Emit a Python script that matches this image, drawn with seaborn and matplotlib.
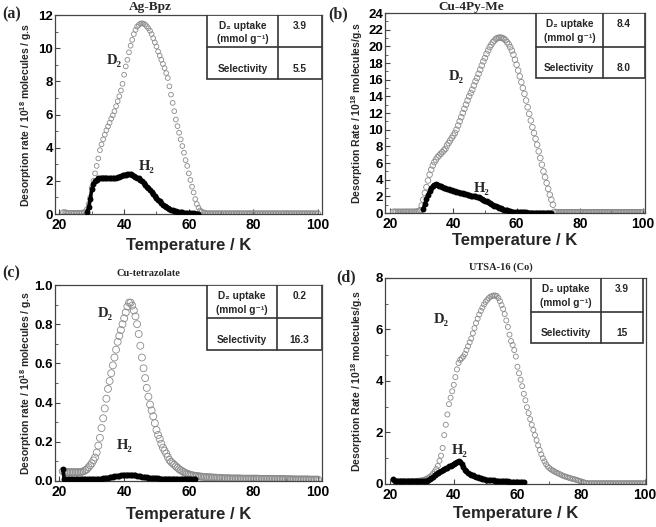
import numpy as np
import matplotlib
matplotlib.use("Agg")
import matplotlib.pyplot as plt
import seaborn as sns
from matplotlib.ticker import MultipleLocator, AutoMinorLocator

nan = np.nan

# sampling temperatures (K): every 0.5 K from 21 to 100
temp = np.arange(21.0, 100.25, 0.5)

# ---- (a) Ag-Bpz ----
agbpz_d2 = [
    0.10, 0.12, 0.10, 0.08, 0.07, 0.07, 0.07, 0.07, 0.07, 0.07,
    0.07, 0.08, 0.09, 0.10, 0.15, 0.30, 0.60, 1.00, 1.60, 2.00,
    2.45, 2.90, 3.35, 3.85, 4.20, 4.50, 4.78, 5.05, 5.28, 5.50,
    5.75, 5.95, 6.20, 6.50, 6.80, 7.10, 7.45, 7.85, 8.40, 8.90,
    9.30, 9.75, 10.15, 10.50, 10.85, 11.10, 11.30, 11.40, 11.48, 11.50,
    11.48, 11.42, 11.32, 11.20, 11.05, 10.85, 10.60, 10.35, 10.10, 9.80,
    9.55, 9.30, 9.05, 8.80, 8.50, 8.20, 7.70, 7.20, 6.70, 6.20,
    5.70, 5.30, 4.90, 4.50, 4.10, 3.70, 3.25, 2.90, 2.45, 2.05,
    1.65, 1.30, 0.90, 0.60, 0.38, 0.22, 0.14, 0.10, 0.07, 0.05,
    0.05, 0.05, 0.05, 0.05, 0.05, 0.05, 0.05, 0.05, 0.05, 0.05,
    0.05, 0.05, 0.05, 0.05, 0.05, 0.05, 0.05, 0.05, 0.05, 0.05,
    0.05, 0.05, 0.05, 0.05, 0.05, 0.05, 0.05, 0.05, 0.05, 0.05,
    0.05, 0.05, 0.05, 0.05, 0.05, 0.05, 0.05, 0.05, 0.05, 0.05,
    0.05, 0.05, 0.05, 0.05, 0.05, 0.05, 0.05, 0.05, 0.05, 0.05,
    0.05, 0.05, 0.05, 0.05, 0.05, 0.05, 0.05, 0.05, 0.05, 0.05,
    0.05, 0.05, 0.05, 0.05, 0.05, 0.05, 0.05, 0.05, 0.05,
]
agbpz_h2 = [
    nan, nan, nan, nan, nan, nan, nan, nan, nan, nan,
    nan, nan, nan, nan, nan, 0.10, 0.40, 0.90, 1.50, 1.80,
    2.00, 2.08, 2.15, 2.18, 2.20, 2.20, 2.20, 2.20, 2.18, 2.17,
    2.16, 2.16, 2.17, 2.19, 2.22, 2.26, 2.30, 2.33, 2.36, 2.38,
    2.40, 2.41, 2.40, 2.37, 2.32, 2.26, 2.20, 2.15, 2.08, 1.98,
    1.87, 1.76, 1.65, 1.55, 1.45, 1.33, 1.22, 1.10, 0.96, 0.86,
    0.76, 0.66, 0.57, 0.49, 0.42, 0.35, 0.30, 0.26, 0.22, 0.19,
    0.16, 0.14, 0.12, 0.11, 0.10, 0.08, 0.07, 0.06, 0.05, 0.05,
    0.04, 0.04, 0.03, 0.03, 0.03, nan, nan, nan, nan, nan,
    nan, nan, nan, nan, nan, nan, nan, nan, nan, nan,
    nan, nan, nan, nan, nan, nan, nan, nan, nan, nan,
    nan, nan, nan, nan, nan, nan, nan, nan, nan, nan,
    nan, nan, nan, nan, nan, nan, nan, nan, nan, nan,
    nan, nan, nan, nan, nan, nan, nan, nan, nan, nan,
    nan, nan, nan, nan, nan, nan, nan, nan, nan, nan,
    nan, nan, nan, nan, nan, nan, nan, nan, nan,
]

# ---- (b) Cu-4Py-Me ----
cu4py_d2 = [
    0.15, 0.15, 0.14, 0.15, 0.15, 0.14, 0.15, 0.15, 0.15, 0.15,
    0.15, 0.15, 0.15, 0.15, 0.15, 0.18, 0.22, 0.35, 0.90, 1.60,
    2.40, 3.10, 3.90, 4.60, 5.20, 5.70, 6.10, 6.40, 6.70, 6.90,
    7.10, 7.30, 7.50, 7.70, 8.10, 8.40, 8.70, 9.00, 9.30, 9.60,
    10.00, 10.50, 11.00, 11.50, 12.00, 12.50, 13.00, 13.50, 14.00, 14.40,
    14.80, 15.30, 15.80, 16.20, 16.70, 17.20, 17.70, 18.20, 18.60, 19.10,
    19.50, 19.90, 20.20, 20.50, 20.70, 20.90, 21.00, 21.05, 21.05, 21.00,
    20.90, 20.75, 20.50, 20.25, 19.90, 19.50, 19.00, 18.40, 17.80, 17.10,
    16.40, 15.70, 15.00, 14.30, 13.50, 12.70, 11.90, 11.10, 10.30, 9.60,
    8.90, 8.20, 7.40, 6.60, 5.80, 5.00, 4.30, 3.60, 2.90, 2.20,
    1.60, 1.00, 0.15, 0.10, 0.10, 0.10, 0.10, 0.10, 0.10, 0.10,
    0.10, 0.10, 0.10, 0.10, 0.10, 0.10, 0.10, 0.10, 0.10, 0.10,
    0.10, 0.10, 0.10, 0.10, 0.10, 0.10, 0.10, 0.10, 0.10, 0.10,
    0.10, 0.10, 0.10, 0.10, 0.10, 0.10, 0.10, 0.10, 0.10, 0.10,
    0.10, 0.10, 0.10, 0.10, 0.10, 0.10, 0.10, 0.10, 0.10, 0.10,
    0.10, 0.10, 0.10, 0.10, 0.10, 0.10, 0.10, 0.10, 0.10,
]
cu4py_h2 = [
    nan, nan, nan, nan, nan, nan, nan, nan, nan, nan,
    nan, nan, nan, nan, nan, nan, nan, nan, nan, 0.50,
    1.10, 1.70, 2.20, 2.60, 2.95, 3.20, 3.40, 3.45, 3.40, 3.30,
    3.20, 3.10, 3.00, 2.95, 2.90, 2.85, 2.80, 2.75, 2.70, 2.60,
    2.55, 2.50, 2.45, 2.40, 2.35, 2.30, 2.25, 2.20, 2.15, 2.10,
    2.05, 2.00, 2.00, 1.95, 1.90, 1.80, 1.70, 1.60, 1.50, 1.40,
    1.30, 1.20, 1.10, 1.00, 0.90, 0.80, 0.72, 0.64, 0.56, 0.49,
    0.42, 0.36, 0.31, 0.26, 0.22, 0.18, 0.15, 0.13, 0.11, 0.10,
    0.09, 0.08, 0.08, 0.07, 0.07, 0.06, 0.06, 0.06, 0.05, 0.05,
    0.05, 0.05, 0.05, 0.05, 0.05, 0.05, 0.05, 0.05, 0.05, 0.05,
    0.05, nan, nan, nan, nan, nan, nan, nan, nan, nan,
    nan, nan, nan, nan, nan, nan, nan, nan, nan, nan,
    nan, nan, nan, nan, nan, nan, nan, nan, nan, nan,
    nan, nan, nan, nan, nan, nan, nan, nan, nan, nan,
    nan, nan, nan, nan, nan, nan, nan, nan, nan, nan,
    nan, nan, nan, nan, nan, nan, nan, nan, nan,
]

# ---- (c) Cu-tetrazolate ----
cutz_d2 = [
    0.050, 0.045, 0.045, 0.045, 0.045, 0.045, 0.045, 0.045, 0.045, 0.045,
    0.045, 0.045, 0.047, 0.050, 0.055, 0.060, 0.070, 0.080, 0.090, 0.105,
    0.120, 0.145, 0.180, 0.220, 0.270, 0.320, 0.370, 0.420, 0.470, 0.510,
    0.550, 0.590, 0.630, 0.670, 0.710, 0.740, 0.770, 0.800, 0.830, 0.860,
    0.890, 0.910, 0.910, 0.895, 0.870, 0.840, 0.800, 0.750, 0.690, 0.630,
    0.575, 0.525, 0.475, 0.430, 0.390, 0.360, 0.330, 0.295, 0.260, 0.235,
    0.215, 0.190, 0.170, 0.155, 0.140, 0.123, 0.107, 0.098, 0.090, 0.083,
    0.075, 0.068, 0.060, 0.055, 0.050, 0.045, 0.040, 0.037, 0.034, 0.031,
    0.029, 0.028, 0.026, 0.025, 0.024, 0.023, 0.022, 0.021, 0.020, 0.020,
    0.019, 0.019, 0.018, 0.018, 0.017, 0.017, 0.016, 0.016, 0.015, 0.015,
    0.014, 0.014, 0.014, 0.014, 0.013, 0.013, 0.013, 0.013, 0.013, 0.013,
    0.013, 0.012, 0.012, 0.012, 0.012, 0.012, 0.012, 0.012, 0.012, 0.012,
    0.012, 0.012, 0.011, 0.011, 0.011, 0.011, 0.011, 0.011, 0.011, 0.011,
    0.011, 0.010, 0.010, 0.010, 0.010, 0.010, 0.010, 0.010, 0.009, 0.009,
    0.009, 0.009, 0.009, 0.008, 0.008, 0.008, 0.008, 0.008, 0.008, 0.008,
    0.008, 0.008, 0.008, 0.007, 0.007, 0.007, 0.007, 0.007, 0.007,
]
cutz_h2 = [
    0.060, 0.010, 0.008, 0.008, 0.008, 0.008, 0.008, 0.008, 0.008, 0.008,
    0.008, 0.008, 0.008, 0.008, 0.008, 0.008, 0.008, 0.008, 0.008, 0.009,
    0.009, 0.010, 0.010, 0.011, 0.012, 0.013, 0.014, 0.015, 0.017, 0.018,
    0.020, 0.021, 0.023, 0.024, 0.026, 0.027, 0.029, 0.030, 0.031, 0.032,
    0.032, 0.033, 0.032, 0.032, 0.030, 0.029, 0.027, 0.026, 0.024, 0.022,
    0.021, 0.019, 0.018, 0.017, 0.016, 0.015, 0.014, 0.014, 0.013, 0.013,
    0.012, 0.012, 0.012, 0.012, 0.012, 0.012, 0.012, 0.012, 0.012, 0.012,
    0.011, 0.011, 0.011, 0.011, 0.011, 0.011, 0.011, 0.011, 0.011, 0.011,
    0.010, 0.010, 0.010, nan, nan, nan, nan, nan, nan, nan,
    nan, nan, nan, nan, nan, nan, nan, nan, nan, nan,
    nan, nan, nan, nan, nan, nan, nan, nan, nan, nan,
    nan, nan, nan, nan, nan, nan, nan, nan, nan, nan,
    nan, nan, nan, nan, nan, nan, nan, nan, nan, nan,
    nan, nan, nan, nan, nan, nan, nan, nan, nan, nan,
    nan, nan, nan, nan, nan, nan, nan, nan, nan, nan,
    nan, nan, nan, nan, nan, nan, nan, nan, nan,
]

# ---- (d) UTSA-16 (Co) ----
utsa_d2 = [
    0.15, 0.12, 0.11, 0.10, 0.10, 0.10, 0.10, 0.10, 0.10, 0.10,
    0.10, 0.10, 0.11, 0.11, 0.12, 0.12, 0.13, 0.13, 0.14, 0.16,
    0.18, 0.20, 0.24, 0.28, 0.33, 0.40, 0.48, 0.58, 0.70, 0.90,
    1.10, 1.40, 1.90, 2.30, 2.70, 3.10, 3.35, 3.60, 3.85, 4.15,
    4.45, 4.70, 4.82, 4.88, 4.95, 5.05, 5.20, 5.35, 5.50, 5.65,
    5.85, 6.05, 6.25, 6.42, 6.58, 6.72, 6.85, 6.97, 7.07, 7.15,
    7.22, 7.27, 7.30, 7.32, 7.32, 7.30, 7.22, 7.10, 6.95, 6.80,
    6.60, 6.35, 6.10, 5.80, 5.55, 5.40, 5.20, 4.95, 4.55, 4.30,
    4.05, 3.80, 3.50, 3.25, 2.98, 2.75, 2.52, 2.30, 2.10, 1.90,
    1.70, 1.50, 1.32, 1.15, 1.00, 0.88, 0.77, 0.68, 0.62, 0.57,
    0.53, 0.50, 0.46, 0.43, 0.40, 0.37, 0.34, 0.31, 0.29, 0.27,
    0.25, 0.23, 0.21, 0.20, 0.18, 0.16, 0.14, 0.12, 0.10, 0.08,
    0.06, 0.04, 0.03, 0.03, 0.03, 0.03, 0.03, 0.03, 0.03, 0.03,
    0.03, 0.03, 0.03, 0.03, 0.03, 0.03, 0.03, 0.03, 0.03, 0.03,
    0.03, 0.03, 0.03, 0.03, 0.03, 0.03, 0.03, 0.03, 0.03, 0.03,
    0.03, 0.03, 0.03, 0.03, 0.03, 0.03, 0.03, 0.03, 0.03,
]
utsa_h2 = [
    0.18, 0.10, 0.10, 0.10, 0.10, 0.10, 0.10, 0.10, 0.10, 0.10,
    0.10, 0.10, 0.10, 0.10, 0.10, 0.10, 0.10, 0.10, 0.10, 0.10,
    0.10, 0.12, 0.15, 0.19, 0.24, 0.29, 0.34, 0.39, 0.43, 0.46,
    0.50, 0.54, 0.58, 0.61, 0.64, 0.68, 0.71, 0.75, 0.79, 0.83,
    0.87, 0.90, 0.85, 0.76, 0.65, 0.56, 0.50, 0.44, 0.40, 0.36,
    0.33, 0.30, 0.28, 0.26, 0.24, 0.22, 0.20, 0.19, 0.17, 0.16,
    0.15, 0.15, 0.14, 0.14, 0.13, 0.13, 0.12, 0.12, 0.11, 0.11,
    0.10, 0.10, 0.10, 0.09, 0.09, 0.09, 0.08, 0.08, 0.08, 0.08,
    0.07, 0.07, 0.07, nan, nan, nan, nan, nan, nan, nan,
    nan, nan, nan, nan, nan, nan, nan, nan, nan, nan,
    nan, nan, nan, nan, nan, nan, nan, nan, nan, nan,
    nan, nan, nan, nan, nan, nan, nan, nan, nan, nan,
    nan, nan, nan, nan, nan, nan, nan, nan, nan, nan,
    nan, nan, nan, nan, nan, nan, nan, nan, nan, nan,
    nan, nan, nan, nan, nan, nan, nan, nan, nan, nan,
    nan, nan, nan, nan, nan, nan, nan, nan, nan,
]

titles = ["Ag-Bpz", "Cu-4Py-Me", "Cu-tetrazolate", "UTSA-16 (Co)"]
letters = ["(a)", "(b)", "(c)", "(d)"]
uptakes = ["3.9", "8.4", "0.2", "3.9"]
selectivities = ["5.5", "8.0", "16.3", "15"]
ylabels = [
    "Desorption rate / 10$^{18}$ molecules / g.s",
    "Desorption Rate / 10$^{18}$ molecules/g.s",
    "Desorption rate / 10$^{18}$ molecules / g.s",
    "Desorption Rate / 10$^{18}$ molecules/g.s",
]
d2_series = [agbpz_d2, cu4py_d2, cutz_d2, utsa_d2]
h2_series = [agbpz_h2, cu4py_h2, cutz_h2, utsa_h2]
for s in d2_series + h2_series:
    assert len(s) == len(temp)

sns.set_theme(style="ticks")
SANS = ["Liberation Sans", "DejaVu Sans"]
SERIF = ["Liberation Serif", "DejaVu Serif"]
plt.rcParams["font.family"] = SANS
plt.rcParams["mathtext.fontset"] = "custom"
plt.rcParams["mathtext.rm"] = "Liberation Sans:bold"
plt.rcParams["mathtext.bf"] = "Liberation Sans:bold"
plt.rcParams["mathtext.default"] = "bf"
FRAME = "#444444"

fig = plt.figure(figsize=(6.56, 5.27), dpi=100)

# layout / styling per panel
rects = [
    [0.0838, 0.5939, 0.4070, 0.3776],
    [0.5869, 0.5958, 0.3963, 0.3795],
    [0.0838, 0.0873, 0.4070, 0.3719],
    [0.5869, 0.0816, 0.3979, 0.3909],
]
xlims = [(18.6, 101.2), (18.4, 100.6), (18.6, 101.2), (18.4, 100.4)]
ylims = [(0, 12), (0, 24), (0, 1.0), (0, 8)]
ysteps = [2, 2, 0.2, 2]
yfmt = ["{:.0f}", "{:.0f}", "{:.1f}", "{:.0f}"]
title_xy = [(0.356, 1.04), (0.33, 1.03), (0.35, 1.06), (0.445, 1.05)]
title_fs = [9.5, 9.5, 7.5, 7.5]
letter_xy = [(0.004, 0.973), (0.500, 0.973), (0.004, 0.482), (0.512, 0.474)]
d2_lab = [(37, 9.26), (41, 16.4), (34, 0.855), (36, 6.37)]
h2_lab = [(46.8, 2.86), (48.9, 2.9), (40.1, 0.18), (41.8, 1.3)]
xlab_y = [-0.12, -0.10, -0.135, -0.107]
tables = [  # x0, xc, x1, y0, ymid, y1 (axes fraction)
    (0.57, 0.835, 1.0, 0.678, 0.84, 1.0),
    (0.58, 0.838, 1.0, 0.675, 0.83, 1.0),
    (0.57, 0.830, 1.0, 0.668, 0.83, 1.0),
    (0.56, 0.828, 0.99, 0.683, 0.834, 1.0),
]
d2_size = [3.4, 4.0, 5.0, 3.6]

for i in range(4):
    ax = fig.add_axes(rects[i])
    sns.scatterplot(x=temp, y=d2_series[i], ax=ax, marker="o", s=d2_size[i] ** 2,
                    facecolors="none", edgecolor="#8a8a8a", linewidth=0.6, zorder=2)
    sns.lineplot(x=temp, y=h2_series[i], ax=ax, color="black", lw=2.6,
                 estimator=None, sort=False, zorder=3)
    sns.scatterplot(x=temp, y=h2_series[i], ax=ax, marker="o", s=18,
                    color="black", edgecolor="black", linewidth=0, zorder=3)

    ax.set_xticks([20, 40, 60, 80, 100])
    ax.xaxis.set_minor_locator(AutoMinorLocator(2))
    yt = np.round(np.arange(ylims[i][0], ylims[i][1] + 1e-9, ysteps[i]), 3)
    ax.set_yticks(yt)
    ax.set_yticklabels([yfmt[i].format(t) for t in yt])
    ax.yaxis.set_minor_locator(AutoMinorLocator(2))
    ax.set_xlim(*xlims[i])
    ax.set_ylim(*ylims[i])

    ax.tick_params(axis="both", which="both", direction="in", colors=FRAME,
                   labelcolor="black", top=False, right=False)
    ax.tick_params(axis="both", which="major", length=3.5, width=0.8)
    ax.tick_params(axis="both", which="minor", length=2, width=0.6)
    ax.tick_params(axis="x", labelsize=10, pad=3)
    ax.tick_params(axis="y", labelsize=9.5, pad=1.5)
    for lab in ax.get_xticklabels() + ax.get_yticklabels():
        lab.set_fontweight("bold")
    for sp in ax.spines.values():
        sp.set_visible(True)
        sp.set_color(FRAME)
        sp.set_linewidth(0.9)

    ax.set_xlabel("Temperature / K", fontsize=12, fontweight="bold")
    ax.xaxis.set_label_coords(0.5, xlab_y[i])
    ax.set_ylabel(ylabels[i], fontsize=7.5, fontweight="bold")
    ax.yaxis.set_label_coords(-0.078, 0.5)

    ax.text(*title_xy[i], titles[i], transform=ax.transAxes, ha="center", va="center",
            fontsize=title_fs[i], fontweight="bold", family=SERIF)
    fig.text(*letter_xy[i], letters[i], ha="left", va="center", fontsize=11.5,
             fontweight="bold", family=SERIF)
    ax.text(*d2_lab[i], "D\u2082", ha="center", va="center", fontsize=10.5,
            fontweight="bold", family=SERIF)
    ax.text(*h2_lab[i], "H\u2082", ha="center", va="center", fontsize=10.5,
            fontweight="bold", family=SERIF)

    # the small D2 uptake / selectivity table
    x0, xc, x1, y0, ym, y1 = tables[i]
    ax.add_patch(plt.Rectangle((x0, y0), x1 - x0, y1 - y0, transform=ax.transAxes,
                               facecolor="white", edgecolor="#333333", lw=1.2, zorder=5))
    ax.plot([xc, xc], [y0, y1], transform=ax.transAxes, color="#333333", lw=1.2, zorder=6)
    ax.plot([x0, x1], [ym, ym], transform=ax.transAxes, color="#333333", lw=1.2, zorder=6)
    h = y1 - y0
    c1 = (x0 + xc) / 2
    c2 = (xc + x1) / 2
    kw = dict(transform=ax.transAxes, ha="center", va="center", fontsize=7.3,
              fontweight="bold", zorder=7, family=SANS)
    ax.text(c1, y1 - 0.17 * h, "D\u2082 uptake", **kw)
    ax.text(c1, y1 - 0.38 * h, "(mmol g\u207b\u00b9)", **kw)
    ax.text(c2, y1 - 0.17 * h, uptakes[i], **kw)
    ax.text(c1, y0 + 0.16 * h, "Selectivity", **kw)
    ax.text(c2, y0 + 0.16 * h, selectivities[i], **kw)

fig.savefig("out.png", dpi=100)
